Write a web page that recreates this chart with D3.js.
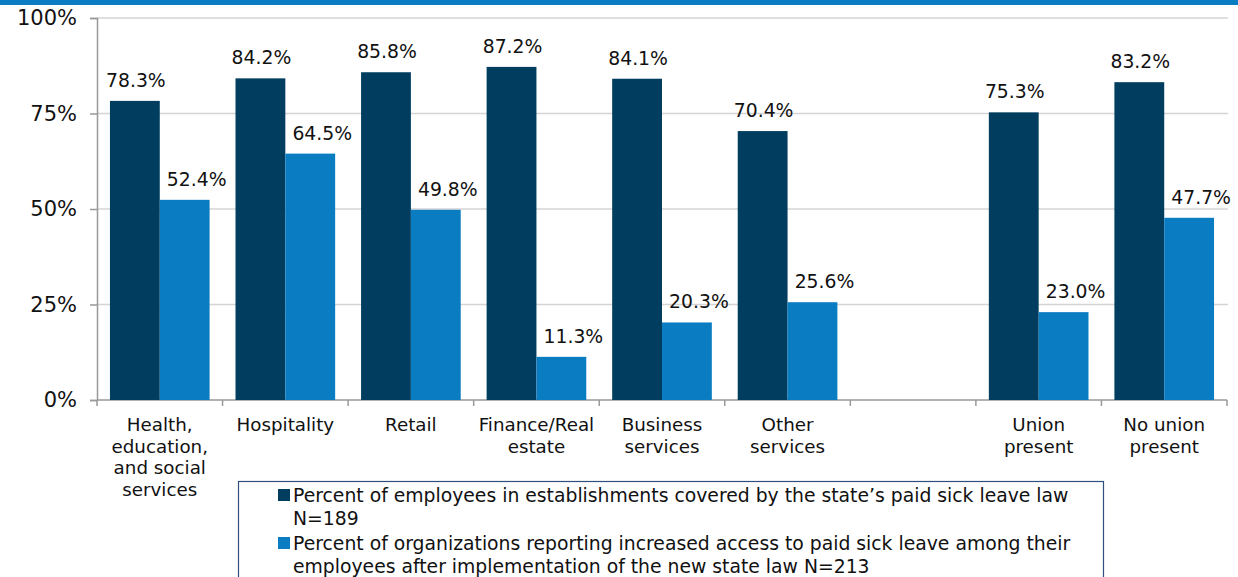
<!DOCTYPE html>
<html><head><meta charset="utf-8">
<script src="https://cdn.jsdelivr.net/npm/d3@7"></script>
<style>body{margin:0;background:#fff;}svg{display:block;font-family:"DejaVu Sans",Verdana,sans-serif;}</style>
</head><body><svg id="c" width="1238" height="577"></svg>
<script>
const categories = [
  ["Health,","education,","and social","services"],
  ["Hospitality"],
  ["Retail"],
  ["Finance/Real","estate"],
  ["Business","services"],
  ["Other","services"],
  [],
  ["Union","present"],
  ["No union","present"]
];
const covered = [78.3, 84.2, 85.8, 87.2, 84.1, 70.4, null, 75.3, 83.2];
const increased = [52.4, 64.5, 49.8, 11.3, 20.3, 25.6, null, 23.0, 47.7];
const yTicks = [0, 25, 50, 75, 100];
const seriesNames = [
  ["Percent of employees in establishments covered by the state\u2019s paid sick leave law", "N=189"],
  ["Percent of organizations reporting increased access to paid sick leave among their", "employees after implementation of the new state law N=213"]
];
const colors = ["#003d5e", "#0a7dc2"];
const labelShift = [1, 12];

const svg = d3.select("#c");
svg.append("rect").attr("x",0).attr("y",0).attr("width",1238).attr("height",5).attr("fill","#0a7dc2");

const L = 97, R = 1227, T = 18, B = 400;
const x = d3.scaleBand().domain(d3.range(categories.length)).range([L, R]).paddingInner(0).paddingOuter(0);
const y = d3.scaleLinear().domain([0, 100]).range([B, T]);
const sub = d3.scaleBand().domain([0,1]).range([0, x.bandwidth()]).paddingOuter(0.26).paddingInner(0);

// gridlines
svg.append("g").selectAll("line").data(yTicks.filter(d=>d>0)).join("line")
  .attr("x1", L).attr("x2", 1228).attr("y1", d=>y(d)).attr("y2", d=>y(d))
  .attr("stroke", "#d4d4d4").attr("stroke-width", 1.5);

// y axis
const yAxis = svg.append("g").attr("transform", `translate(${L},0)`)
  .call(d3.axisLeft(y).tickValues(yTicks).tickFormat(d=>d+"%").tickSize(7).tickPadding(13));
yAxis.select(".domain").attr("stroke","#999").attr("stroke-width",1.5);
yAxis.selectAll(".tick line").attr("stroke","#999").attr("stroke-width",1.5);
yAxis.selectAll(".tick text").attr("font-size",21).attr("fill","#111").attr("font-family","DejaVu Sans, sans-serif");

// x axis
const xAxis = svg.append("g").attr("transform", `translate(0,${B})`);
xAxis.append("line").attr("x1",L).attr("x2",R).attr("y1",0).attr("y2",0).attr("stroke","#999").attr("stroke-width",1.5);
xAxis.selectAll("line.t").data(d3.range(categories.length+1)).join("line").attr("class","t")
  .attr("x1", i=>L + i*x.step()).attr("x2", i=>L + i*x.step()).attr("y1",0).attr("y2",6)
  .attr("stroke","#999").attr("stroke-width",1.5);
categories.forEach((lines, i) => {
  const t = xAxis.append("text").attr("text-anchor","middle").attr("font-size",18.3).attr("fill","#111");
  lines.forEach((ln, j) => t.append("tspan").attr("x", x(i)+x.bandwidth()/2).attr("y", 31 + j*21.7).text(ln));
});

// bars
const series = [covered, increased];
series.forEach((vals, s) => {
  const g = svg.append("g");
  const data = vals.map((v,i)=>({v,i})).filter(d=>d.v!==null);
  g.selectAll("rect").data(data).join("rect")
    .attr("x", d=>x(d.i)+sub(s)).attr("width", sub.bandwidth())
    .attr("y", d=>y(d.v)).attr("height", d=>B-y(d.v)).attr("fill", colors[s]);
  g.selectAll("text").data(data).join("text")
    .attr("x", d=>x(d.i)+sub(s)+sub.bandwidth()/2 + labelShift[s]).attr("y", d=>y(d.v)-14)
    .attr("text-anchor","middle").attr("font-size",18.8).attr("fill","#111")
    .text(d=>d.v.toFixed(1)+"%");
});

// legend
const lg = svg.append("g");
lg.append("rect").attr("x",238.5).attr("y",481.5).attr("width",865).attr("height",110)
  .attr("fill","#fff").attr("stroke","#2f4f7f").attr("stroke-width",1.2);
seriesNames.forEach((lines, s) => {
  const yy = 502 + s*48;
  lg.append("rect").attr("x",278).attr("y",yy-13).attr("width",12).attr("height",12).attr("fill",colors[s]);
  lines.forEach((ln,j)=>{
    lg.append("text").attr("x",293).attr("y",yy + j*23).attr("font-size",18.8).attr("fill","#111").text(ln);
  });
});
</script></body></html>
